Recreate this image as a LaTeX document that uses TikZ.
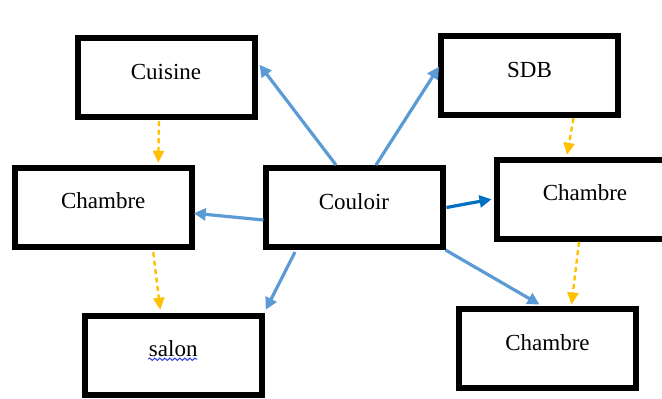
\documentclass[tikz,border=0pt]{standalone}
\usepackage{fontspec}
\setmainfont{Liberation Serif}
\usetikzlibrary{calc,arrows.meta,decorations.pathmorphing}
\definecolor{lienclair}{HTML}{5B9BD5}
\definecolor{lienfonce}{HTML}{0070C0}
\definecolor{suite}{HTML}{FFC000}
\definecolor{correcteur}{HTML}{2F3FE0}

\tikzset{
  piece/.style={draw, line width=3pt, minimum width=88.5pt, minimum height=39.5pt, inner sep=0pt,
    font=\fontsize{11.5}{13}\selectfont, text height=8pt, text depth=6.4pt},
  acces/.style={line width=1.6pt, color=lienclair, -{Triangle[length=6pt,width=6pt]}},
  passage/.style={line width=1.2pt, color=suite, dash pattern=on 2.5pt off 1.75pt, -{Triangle[length=6pt,width=5.5pt]}},
}

\begin{document}
\begin{tikzpicture}[x=0.5pt, y=-0.5pt]
    \clip (0,0) rectangle (662,399);

    \node[piece] (cuisine)  at (166,77.75)    {Cuisine};
    \node[piece] (sdb)      at (529.5,75.75)  {SDB};
    \node[piece] (chambreG) at (103.25,207.25) {Chambre};
    \node[piece] (couloir)  at (354,207.5)    {Couloir};
    \node[piece] (chambreD) at (585,199.25)   {Chambre};
    \node[piece] (salon)    at (173.25,355.25) {salon};
    \node[piece] (chambreB) at (547.5,349)    {Chambre};

    % depuis le couloir
    \draw[acces] ($(couloir.north)+(-18,0)$) -- ($(cuisine.east)+(2,-13)$);
    \draw[acces] ($(couloir.north)+(22,0)$) -- ($(sdb.west)+(1,-9)$);
    \draw[acces] ($(couloir.west)+(1,12.5)$) -- ($(chambreG.east)+(-1,6)$);
    \draw[acces] ($(couloir.south)+(-59,2)$) -- ($(salon.north east)+(1,-3)$);
    \draw[acces, color=lienfonce] ($(couloir.east)+(1,0)$) -- ($(chambreD.west)+(-2,0)$);
    \draw[acces] (couloir.south east) -- ($(chambreB.north)+(-8,-2)$);

    % enchainements
    \draw[passage] ($(cuisine.south)+(-7,1)$) -- ($(chambreG.north)+(55,-2)$);
    \draw[passage] ($(chambreG.south)+(50,2.5)$) -- ($(salon.north)+(-13,-3)$);
    \draw[passage] ($(sdb.south)+(44,0)$) -- ($(chambreD.north)+(-18,-2)$);
    \draw[passage] ($(chambreD.south)+(-6,0)$) -- ($(chambreB.north)+(24,-2)$);

    \draw[correcteur, line width=0.5pt, decorate, decoration={snake, amplitude=0.6pt, segment length=2.5pt}]
        ($(salon.center)+(-25,4)$) -- ($(salon.center)+(24,4)$);
\end{tikzpicture}
\end{document}
